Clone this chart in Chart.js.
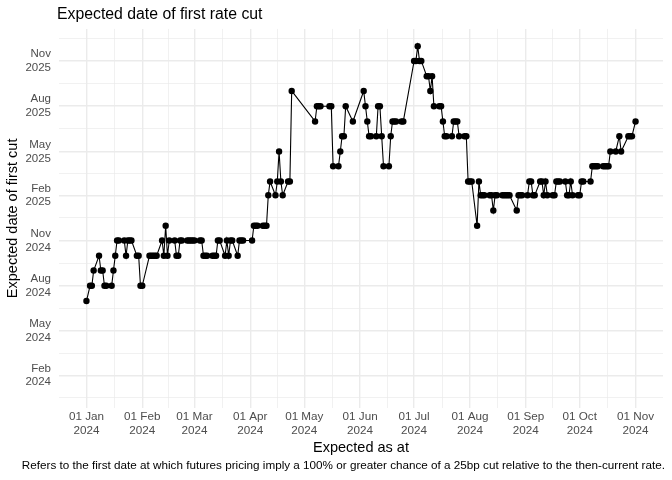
<!DOCTYPE html>
<html>
<head>
<meta charset="utf-8">
<script src="https://cdn.jsdelivr.net/npm/chart.js@4.4.1/dist/chart.umd.min.js"></script>
<style>html,body{margin:0;padding:0;background:#fff}canvas{display:block}</style>
</head>
<body>
<canvas id="c" width="672" height="480"></canvas>
<script>
// "Expected as at" dates (x) and the month of the expected first cut (y)
const asAt = [
'2024-01-01','2024-01-03','2024-01-04','2024-01-05','2024-01-08','2024-01-09','2024-01-10','2024-01-11','2024-01-12','2024-01-15',
'2024-01-16','2024-01-17','2024-01-18','2024-01-19','2024-01-22','2024-01-23','2024-01-24','2024-01-25','2024-01-26','2024-01-29',
'2024-01-30','2024-01-31','2024-02-01','2024-02-05','2024-02-06','2024-02-07','2024-02-08','2024-02-09','2024-02-12','2024-02-13',
'2024-02-14','2024-02-15','2024-02-16','2024-02-19','2024-02-20','2024-02-21','2024-02-22','2024-02-23','2024-02-26','2024-02-27',
'2024-02-28','2024-02-29','2024-03-01','2024-03-04','2024-03-05','2024-03-06','2024-03-07','2024-03-08','2024-03-11','2024-03-12',
'2024-03-13','2024-03-14','2024-03-15','2024-03-18','2024-03-19','2024-03-20','2024-03-21','2024-03-22','2024-03-25','2024-03-26',
'2024-03-27','2024-03-28','2024-04-02','2024-04-03','2024-04-04','2024-04-05','2024-04-08','2024-04-09','2024-04-10','2024-04-11',
'2024-04-12','2024-04-15','2024-04-16','2024-04-17','2024-04-18','2024-04-19','2024-04-22','2024-04-23','2024-04-24','2024-05-07',
'2024-05-08','2024-05-09','2024-05-10','2024-05-15','2024-05-16','2024-05-17','2024-05-20','2024-05-21','2024-05-22','2024-05-23',
'2024-05-24','2024-05-28','2024-06-03','2024-06-04','2024-06-05','2024-06-06','2024-06-07','2024-06-10','2024-06-11','2024-06-12',
'2024-06-13','2024-06-14','2024-06-17','2024-06-18','2024-06-19','2024-06-20','2024-06-21','2024-06-24','2024-06-25','2024-07-01',
'2024-07-02','2024-07-03','2024-07-04','2024-07-05','2024-07-08','2024-07-09','2024-07-10','2024-07-11','2024-07-12','2024-07-15',
'2024-07-16','2024-07-17','2024-07-18','2024-07-19','2024-07-22','2024-07-23','2024-07-24','2024-07-25','2024-07-26','2024-07-29',
'2024-07-30','2024-07-31','2024-08-01','2024-08-02','2024-08-05','2024-08-06','2024-08-07','2024-08-08','2024-08-09','2024-08-12',
'2024-08-13','2024-08-14','2024-08-15','2024-08-16','2024-08-19','2024-08-20','2024-08-21','2024-08-22','2024-08-23','2024-08-27',
'2024-08-28','2024-08-29','2024-08-30','2024-09-02','2024-09-03','2024-09-04','2024-09-05','2024-09-06','2024-09-09','2024-09-10',
'2024-09-11','2024-09-12','2024-09-13','2024-09-16','2024-09-17','2024-09-18','2024-09-19','2024-09-20','2024-09-23','2024-09-24',
'2024-09-25','2024-09-26','2024-09-27','2024-09-30','2024-10-01','2024-10-02','2024-10-03','2024-10-07','2024-10-08','2024-10-09',
'2024-10-10','2024-10-11','2024-10-14','2024-10-15','2024-10-16','2024-10-17','2024-10-18','2024-10-21','2024-10-23','2024-10-24',
'2024-10-28','2024-10-29','2024-10-30','2024-11-01'
];
const firstCut = [
'2024-07','2024-08','2024-08','2024-09','2024-10','2024-09','2024-09','2024-08','2024-08','2024-08',
'2024-09','2024-10','2024-11','2024-11','2024-11','2024-10','2024-11','2024-11','2024-11','2024-10',
'2024-10','2024-08','2024-08','2024-10','2024-10','2024-10','2024-10','2024-10','2024-11','2024-10',
'2024-12','2024-10','2024-11','2024-11','2024-10','2024-10','2024-11','2024-11','2024-11','2024-11',
'2024-11','2024-11','2024-11','2024-11','2024-11','2024-10','2024-10','2024-10','2024-10','2024-10',
'2024-10','2024-11','2024-11','2024-10','2024-11','2024-10','2024-11','2024-11','2024-10','2024-11',
'2024-11','2024-11','2024-11','2024-12','2024-12','2024-12','2024-12','2024-12','2024-12','2025-02',
'2025-03','2025-02','2025-03','2025-05','2025-03','2025-02','2025-03','2025-03','2025-09','2025-07',
'2025-08','2025-08','2025-08','2025-08','2025-08','2025-04','2025-04','2025-05','2025-06','2025-06',
'2025-08','2025-07','2025-09','2025-08','2025-07','2025-06','2025-06','2025-06','2025-08','2025-08',
'2025-06','2025-04','2025-04','2025-06','2025-07','2025-07','2025-07','2025-07','2025-07','2025-11',
'2025-11','2025-12','2025-11','2025-11','2025-10','2025-10','2025-09','2025-10','2025-08','2025-08',
'2025-08','2025-07','2025-06','2025-06','2025-06','2025-07','2025-07','2025-07','2025-06','2025-06',
'2025-06','2025-03','2025-03','2025-03','2024-12','2025-03','2025-02','2025-02','2025-02','2025-02',
'2025-02','2025-01','2025-02','2025-02','2025-02','2025-02','2025-02','2025-02','2025-02','2025-01',
'2025-02','2025-02','2025-02','2025-02','2025-03','2025-03','2025-02','2025-02','2025-03','2025-03',
'2025-02','2025-03','2025-02','2025-02','2025-02','2025-03','2025-03','2025-03','2025-03','2025-02',
'2025-02','2025-03','2025-02','2025-02','2025-02','2025-03','2025-03','2025-03','2025-04','2025-04',
'2025-04','2025-04','2025-04','2025-04','2025-04','2025-04','2025-05','2025-05','2025-06','2025-05',
'2025-06','2025-06','2025-06','2025-07'
];
// Axis breaks
const xTickMonths = ['2024-01','2024-02','2024-03','2024-04','2024-05','2024-06','2024-07','2024-08','2024-09','2024-10','2024-11'];
const yTickMonths = ['2024-02','2024-05','2024-08','2024-11','2025-02','2025-05','2025-08','2025-11'];
const yLimitMonths = ['2024-01','2025-12'];

const MON = ['Jan','Feb','Mar','Apr','May','Jun','Jul','Aug','Sep','Oct','Nov','Dec'];
function ym(s){const p=s.split('-').map(Number);return Date.UTC(p[0],p[1]-1,1);}
function ymd(s){const p=s.split('-').map(Number);return Date.UTC(p[0],p[1]-1,p[2]);}

const points = asAt.map((d,i)=>({x:ymd(d), y:ym(firstCut[i])}));

// limits with 5% expansion
const xs = points.map(p=>p.x);
const xLo = Math.min(...xs), xHi = Math.max(...xs);
const xMin = xLo - 0.05*(xHi-xLo), xMax = xHi + 0.05*(xHi-xLo);
const yLo = ym(yLimitMonths[0]), yHi = ym(yLimitMonths[1]);
const yMin = yLo - 0.05*(yHi-yLo), yMax = yHi + 0.05*(yHi-yLo);

function breaks(majors, lo, hi){
  const step = majors[1]-majors[0];
  const ext = [majors[0]-step, ...majors, majors[majors.length-1]+step];
  const minors = [];
  for(let i=0;i<ext.length-1;i++){const m=(ext[i]+ext[i+1])/2; if(m>=lo&&m<=hi) minors.push(m);}
  const all = majors.map(v=>({value:v})).concat(minors.map(v=>({value:v})));
  all.sort((a,b)=>a.value-b.value);
  return all;
}
const xMajor = xTickMonths.map(ym);
const yMajor = yTickMonths.map(ym);
const xBreaks = breaks(xMajor, xMin, xMax);
const yBreaks = breaks(yMajor, yMin, yMax);
const xMajorSet = new Set(xMajor), yMajorSet = new Set(yMajor);

const FONT = '"Liberation Sans", Arial, Helvetica, sans-serif';
const GRID = '#EBEBEB';

function gridStyle(set){
  return {
    display:true, drawTicks:false,
    color: GRID,
    lineWidth: ctx => (ctx.tick && set.has(ctx.tick.value)) ? 1.4 : 0.7
  };
}

new Chart(document.getElementById('c'), {
  type:'line',
  data:{datasets:[{
    data:points,
    borderColor:'#000', backgroundColor:'#000', borderWidth:1.1,
    pointRadius:3.2, pointHoverRadius:3.2, pointBackgroundColor:'#000', pointBorderColor:'#000', pointBorderWidth:0,
    tension:0, fill:false
  }]},
  options:{
    responsive:false, animation:false, events:[],
    layout:{padding:{left:0,right:7,top:0,bottom:0}},
    plugins:{
      legend:{display:false}, tooltip:{enabled:false},
      title:{display:true, text:'Expected date of first rate cut', align:'start', color:'#000',
        font:{family:FONT,size:15.8,weight:'normal'}, padding:{top:5,bottom:5}},
      subtitle:{display:true, position:'bottom', align:'end', color:'#000',
        text:'Refers to the first date at which futures pricing imply a 100% or greater chance of a 25bp cut relative to the then-current rate.',
        font:{family:FONT,size:11.7,weight:'normal'}, padding:{top:2,bottom:7}}
    },
    scales:{
      x:{
        type:'linear', min:xMin, max:xMax,
        grid:gridStyle(xMajorSet), border:{display:false},
        afterBuildTicks:s=>{s.ticks = xBreaks.map(b=>({value:b.value}));},
        ticks:{autoSkip:false, maxRotation:0, minRotation:0, padding:2, color:'#4D4D4D',
          font:{family:FONT,size:11.7},
          callback:v=>{ if(!xMajorSet.has(v)) return ''; const d=new Date(v); return ['01 '+MON[d.getUTCMonth()], String(d.getUTCFullYear())]; }},
        title:{display:true, text:'Expected as at', color:'#000', font:{family:FONT,size:14.5}, padding:{top:0,bottom:0}},
        afterFit:s=>{s.height=49.2; s.paddingLeft=0; s.paddingRight=9;}
      },
      y:{
        type:'linear', min:yMin, max:yMax,
        grid:gridStyle(yMajorSet), border:{display:false},
        afterBuildTicks:s=>{s.ticks = yBreaks.map(b=>({value:b.value}));},
        ticks:{autoSkip:false, padding:8, color:'#4D4D4D', font:{family:FONT,size:11.5},
          callback:v=>{ if(!yMajorSet.has(v)) return ''; const d=new Date(v); return [MON[d.getUTCMonth()], String(d.getUTCFullYear())]; }},
        title:{display:true, text:'Expected date of first cut', color:'#000', font:{family:FONT,size:14.5}, padding:{top:4,bottom:0}},
        afterFit:s=>{s.width=59; s.paddingTop=0; s.paddingBottom=0;}
      }
    }
  },
  plugins:[{id:'panelTitle', afterLayout(chart){ if(chart.titleBlock){ chart.titleBlock.left = chart.chartArea.left - 2; } }}]
});
</script>
</body>
</html>
